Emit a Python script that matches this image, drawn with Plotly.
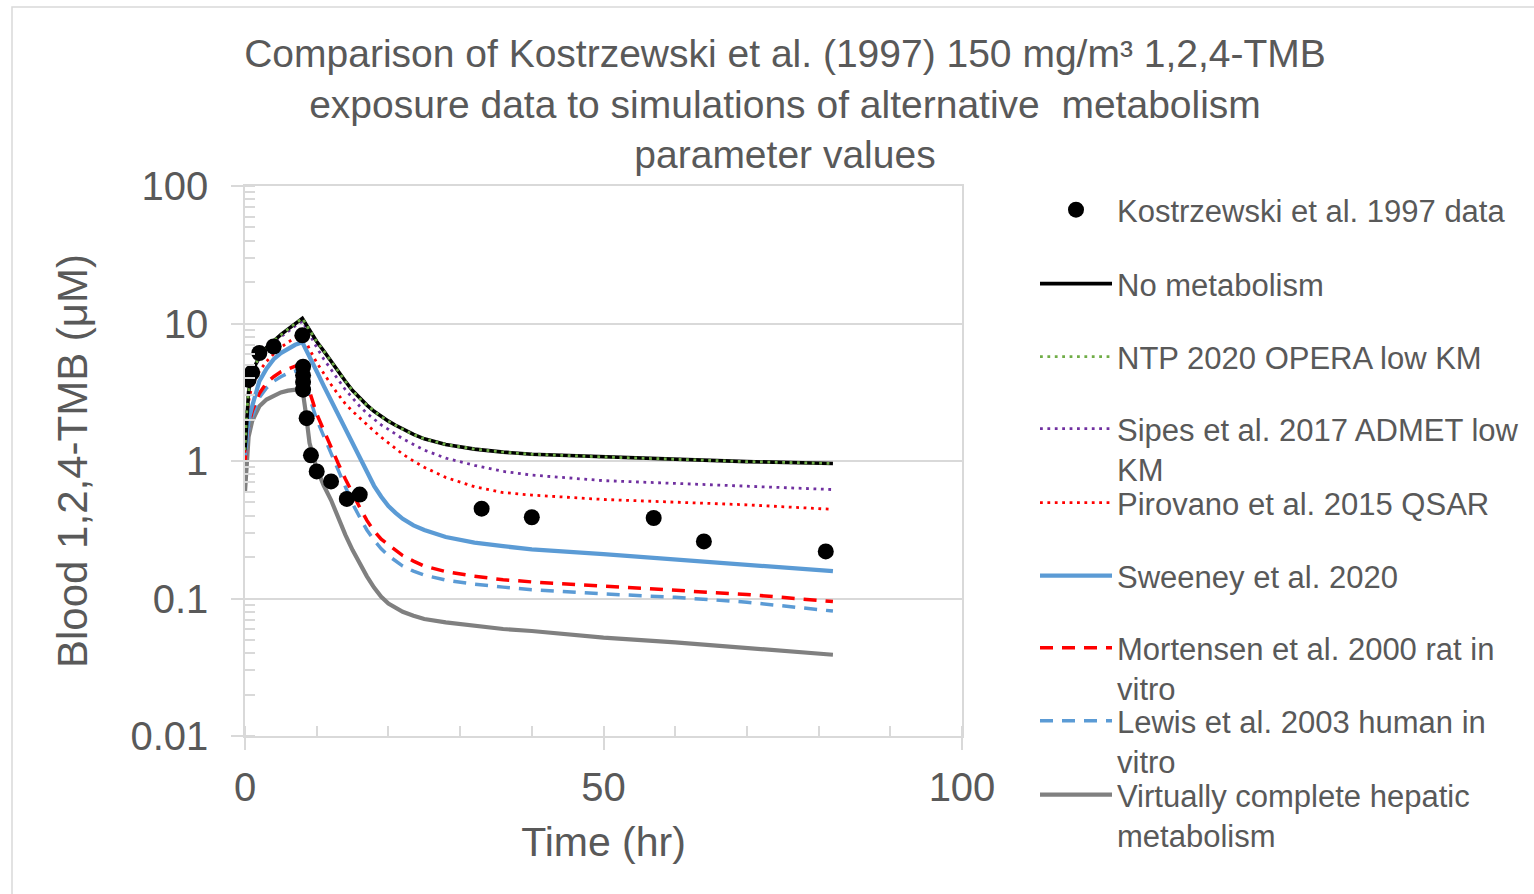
import plotly.graph_objects as go

# ---------------- data ----------------
time_hr = [0, 0.25, 0.5, 1, 2, 3, 4, 5, 6, 7, 8, 8.5, 9, 10, 11, 12, 13, 14, 15, 16, 17, 18,
           19, 20, 21, 22, 23.5, 25, 28, 32, 36, 40, 50, 60, 70, 82]

no_metabolism = [1.2, 2.3, 3.2, 4.4, 5.8, 6.7, 7.5, 8.3, 9.1, 10.0, 10.9, 9.9, 8.9, 7.4, 6.3, 5.3,
                 4.5, 3.8, 3.25, 2.85, 2.55, 2.3, 2.1, 1.95, 1.82, 1.7, 1.56, 1.45, 1.32, 1.22,
                 1.16, 1.12, 1.07, 1.03, 0.99, 0.96]
ntp_opera = [1.2, 2.3, 3.2, 4.4, 5.8, 6.7, 7.5, 8.3, 9.1, 10.0, 10.9, 9.9, 8.9, 7.4, 6.3, 5.3,
             4.5, 3.8, 3.25, 2.85, 2.55, 2.3, 2.1, 1.95, 1.82, 1.7, 1.56, 1.45, 1.32, 1.22,
             1.16, 1.12, 1.07, 1.03, 0.99, 0.96]
sipes_admet = [1.2, 2.25, 3.1, 4.3, 5.6, 6.5, 7.3, 8.0, 8.8, 9.6, 10.4, 9.3, 8.3, 6.7, 5.5, 4.6,
               3.9, 3.3, 2.85, 2.5, 2.22, 2.0, 1.83, 1.7, 1.57, 1.45, 1.32, 1.2, 1.05, 0.93,
               0.84, 0.79, 0.72, 0.685, 0.66, 0.62]
pirovano_qsar = [1.15, 2.0, 2.7, 3.6, 4.5, 5.3, 6.0, 6.7, 7.3, 7.9, 8.5, 7.4, 6.5, 5.2, 4.3, 3.6,
                 3.05, 2.6, 2.3, 2.05, 1.83, 1.65, 1.49, 1.35, 1.23, 1.12, 1.0, 0.9, 0.76, 0.65,
                 0.59, 0.565, 0.525, 0.505, 0.48, 0.445]
sweeney_2020 = [1.1, 1.6, 2.0, 2.5, 3.8, 4.7, 5.5, 6.1, 6.6, 7.0, 7.3, 6.5, 5.8, 4.5, 3.5, 2.75,
                2.15, 1.7, 1.33, 1.05, 0.82, 0.66, 0.55, 0.47, 0.42, 0.38, 0.34, 0.315, 0.28, 0.255,
                0.24, 0.228, 0.21, 0.193, 0.177, 0.158]
mortensen_rat = [1.0, 1.4, 1.8, 2.3, 3.1, 3.7, 4.1, 4.45, 4.7, 4.9, 5.0, 3.9, 3.2, 2.2, 1.65, 1.25,
                 0.96, 0.74, 0.58, 0.46, 0.37, 0.31, 0.27, 0.245, 0.222, 0.205, 0.187, 0.172, 0.157, 0.145,
                 0.137, 0.132, 0.123, 0.115, 0.107, 0.095]
lewis_human = [1.0, 1.35, 1.7, 2.1, 2.9, 3.4, 3.8, 4.1, 4.35, 4.5, 4.6, 3.6, 2.9, 2.0, 1.5, 1.15,
               0.86, 0.64, 0.49, 0.39, 0.315, 0.265, 0.23, 0.205, 0.187, 0.172, 0.158, 0.148, 0.136, 0.127,
               0.121, 0.116, 0.108, 0.102, 0.094, 0.081]
complete_hepatic = [0.6, 1.1, 1.5, 1.95, 2.5, 2.8, 3.0, 3.15, 3.25, 3.3, 3.35, 2.2, 1.35, 0.88, 0.66, 0.52,
                    0.38, 0.29, 0.225, 0.18, 0.145, 0.12, 0.103, 0.092, 0.085, 0.08, 0.075, 0.071, 0.067, 0.063,
                    0.06, 0.058, 0.052, 0.048, 0.044, 0.039]

data_time = [0.5, 1, 2, 4, 8, 8.1, 8.1, 8.1, 8.1, 8.6, 9.2, 10, 12, 14.2, 16, 33, 40, 57, 64, 81]
data_conc = [3.9, 4.4, 6.1, 6.8, 8.2, 4.85, 4.2, 3.75, 3.3, 2.05, 1.1, 0.84, 0.71, 0.53, 0.57,
             0.45, 0.39, 0.385, 0.26, 0.22]

y_tickvals = [0.01, 0.1, 1, 10, 100]
y_ticktext = ["0.01", "0.1", "1", "10", "100"]
x_tickvals = [0, 50, 100]
x_ticktext = ["0", "50", "100"]

labels = [
    "Kostrzewski et al. 1997 data",
    "No metabolism",
    "NTP 2020 OPERA low KM",
    "Sipes et al. 2017 ADMET low<br>KM",
    "Pirovano et al. 2015 QSAR",
    "Sweeney et al. 2020",
    "Mortensen et al. 2000 rat in<br>vitro",
    "Lewis et al. 2003 human in<br>vitro",
    "Virtually complete hepatic<br>metabolism",
]

# ---------------- styling ----------------
FONT = "Liberation Sans, Arial, sans-serif"
TXT = "#595959"
GRID = "#d9d9d9"

W, H = 1534, 894
L, R, T, B = 245, 572, 186, 158
PW, PH = W - L - R, H - T - B


def px_x(x):
    return (x - L) / PW


def px_y(y):
    return (H - B - y) / PH


fig = go.Figure()

line_series = [
    (no_metabolism, labels[1], dict(color="black", width=3.6)),
    (ntp_opera, labels[2], dict(color="#70ad47", width=2.8, dash="2.8px,4.6px")),
    (sipes_admet, labels[3], dict(color="#7030a0", width=2.8, dash="2.8px,4.6px")),
    (pirovano_qsar, labels[4], dict(color="#ff0000", width=2.8, dash="2.8px,4.6px")),
    (sweeney_2020, labels[5], dict(color="#5b9bd5", width=4.3)),
    (mortensen_rat, labels[6], dict(color="#ff0000", width=3.5, dash="13px,9px")),
    (lewis_human, labels[7], dict(color="#5b9bd5", width=3.5, dash="13px,9px")),
    (complete_hepatic, labels[8], dict(color="#808080", width=4.2)),
]
# draw order: gray first so black/green stay on top as in the reference
order = [7, 6, 5, 4, 3, 2, 0, 1]
for i in order:
    vals, name, ln = line_series[i]
    fig.add_trace(go.Scatter(x=time_hr, y=vals, mode="lines", name=name, line=ln,
                             legend="legend" if i == 0 else f"legend{i + 1}"))

fig.add_trace(go.Scatter(x=data_time, y=data_conc, mode="markers", name=labels[0],
                         marker=dict(color="black", size=16), legend="legend10"))

legend_centers = [211, 285, 358, 431, 504, 577, 650, 723, 797]
legend_names = ["legend10", "legend", "legend2", "legend3", "legend4", "legend5",
                "legend6", "legend7", "legend8"]
legend_layout = {}
for name, cy, lab in zip(legend_names, legend_centers, labels):
    shift = 29 if "<br>" in lab else 28
    legend_layout[name] = dict(
        x=px_x(1035), xanchor="left",
        y=px_y(cy - shift), yanchor="top",
        font=dict(family=FONT, size=31, color=TXT),
        bgcolor="rgba(0,0,0,0)", borderwidth=0,
        itemwidth=72, valign="top", itemclick=False, itemdoubleclick=False,
    )

fig.update_layout(
    width=W, height=H,
    margin=dict(l=L, r=R, t=T, b=B, autoexpand=False),
    paper_bgcolor="white", plot_bgcolor="white",
    showlegend=True,
    title=dict(
        text="Comparison of Kostrzewski et al. (1997) 150 mg/m³ 1,2,4-TMB<br>"
             "exposure data to simulations of alternative  metabolism<br>parameter values",
        font=dict(family=FONT, size=39, color=TXT),
        x=785 / W, xanchor="center", xref="container",
        y=1 - 67 / H, yanchor="top", yref="container",
    ),
    xaxis=dict(
        range=[0, 100], tickmode="array", tickvals=x_tickvals, ticktext=x_ticktext,
        showgrid=False, zeroline=False,
        showline=True, linecolor=GRID, linewidth=1.5, mirror=True,
        ticks="outside", ticklen=12, tickcolor=GRID, tickwidth=1.5,
        minor=dict(dtick=10, ticks="inside", ticklen=10, tickcolor=GRID, tickwidth=1.5, showgrid=False),
        tickfont=dict(family=FONT, size=40, color=TXT),
        ticklabelstandoff=3,
        title=dict(text="Time (hr)", font=dict(family=FONT, size=41, color=TXT), standoff=20),
    ),
    yaxis=dict(
        type="log", range=[-2, 2], tickmode="array", tickvals=y_tickvals, ticktext=y_ticktext,
        showgrid=True, gridcolor=GRID, gridwidth=1.5, zeroline=False,
        showline=True, linecolor=GRID, linewidth=1.5, mirror=True,
        ticks="outside", ticklen=12, tickcolor=GRID, tickwidth=1.5,
        minor=dict(dtick="D1", ticks="inside", ticklen=10, tickcolor=GRID, tickwidth=1.5, showgrid=False),
        tickfont=dict(family=FONT, size=40, color=TXT),
        ticklabelstandoff=15,
        title=dict(text="Blood 1,2,4-TMB (μM)", font=dict(family=FONT, size=42, color=TXT), standoff=30),
    ),
    shapes=[dict(type="rect", xref="paper", yref="paper",
                 x0=px_x(12), x1=px_x(1600), y0=px_y(1000), y1=px_y(7),
                 line=dict(color=GRID, width=1.5), fillcolor="rgba(0,0,0,0)", layer="below")],
    **legend_layout,
)

fig.write_html("out.html", config={"displayModeBar": False},
               post_script="document.body.style.margin='0';document.body.style.overflow='hidden';")
